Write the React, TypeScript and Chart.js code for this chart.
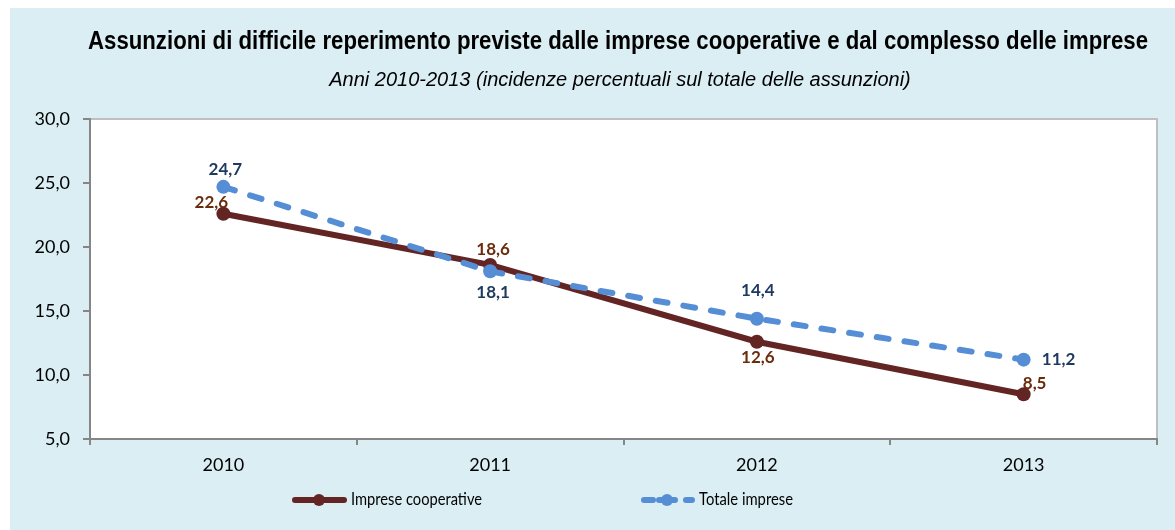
import React, { useEffect, useRef } from "react";
import { Chart, registerables } from "chart.js";

Chart.register(...registerables);

const categories = ["2010", "2011", "2012", "2013"];
const cooperativeValues = [22.6, 18.6, 12.6, 8.5];
const totalValues = [24.7, 18.1, 14.4, 11.2];
const yTicks = [5, 10, 15, 20, 25, 30];

const titleText = "Assunzioni di difficile reperimento previste dalle imprese cooperative e dal complesso delle imprese";
const subtitleText = "Anni 2010-2013 (incidenze percentuali sul totale delle assunzioni)";
const seriesNames = ["Imprese cooperative", "Totale imprese"];

// label offsets relative to each point (dx, dy)
const coopLabelOffsets = [[-12, -11], [3, -15], [1, 16], [11, -11]];
const totalLabelOffsets = [[2, -17], [3, 21], [1, -28], [35, 0]];

const COOP = "#632523";
const COOP_LABEL = "#6B2B0B";
const TOTAL = "#558ED5";
const TOTAL_LABEL = "#1F3A60";
const BG = "#DAEEF3";
const TICK_FONT = "Lato, 'Open Sans', sans-serif";
const TITLE_FONT = "'Liberation Sans', Arial, sans-serif";

const fmt = (v: number) => v.toFixed(1).replace(".", ",");

const decorPlugin = {
  id: "decor",
  beforeDraw(chart: any) {
    const { ctx, chartArea, width, height } = chart;
    ctx.save();
    ctx.fillStyle = BG;
    ctx.fillRect(0, 0, width, height);
    ctx.fillStyle = "#FFFFFF";
    ctx.fillRect(chartArea.left, chartArea.top, chartArea.right - chartArea.left, chartArea.bottom - chartArea.top);
    ctx.strokeStyle = "#BFBFBF";
    ctx.lineWidth = 2;
    ctx.beginPath();
    ctx.moveTo(chartArea.left, chartArea.top);
    ctx.lineTo(chartArea.right, chartArea.top);
    ctx.lineTo(chartArea.right, chartArea.bottom);
    ctx.stroke();
    // titles
    ctx.fillStyle = "#000";
    ctx.textAlign = "center";
    ctx.textBaseline = "middle";
    ctx.font = `bold 25px ${TITLE_FONT}`;
    ctx.fillText(titleText, 608, 34, 1060);
    ctx.font = `italic 20px ${TITLE_FONT}`;
    ctx.fillText(subtitleText, 610, 72, 586);
    ctx.restore();
  },
  afterDraw(chart: any) {
    const { ctx } = chart;
    ctx.save();
    // data labels
    ctx.font = `bold 17px ${TICK_FONT}`;
    ctx.textAlign = "center";
    ctx.textBaseline = "middle";
    const sets = [
      { idx: 0, color: COOP_LABEL, offs: coopLabelOffsets, vals: cooperativeValues },
      { idx: 1, color: TOTAL_LABEL, offs: totalLabelOffsets, vals: totalValues },
    ];
    sets.forEach((s) => {
      const meta = chart.getDatasetMeta(s.idx);
      meta.data.forEach((pt: any, i: number) => {
        ctx.fillStyle = s.color;
        ctx.fillText(fmt(s.vals[i]), pt.x + s.offs[i][0], pt.y + s.offs[i][1]);
      });
    });
    // legend
    const ly = 492;
    ctx.lineCap = "round";
    ctx.strokeStyle = COOP;
    ctx.lineWidth = 6;
    ctx.setLineDash([]);
    ctx.beginPath();
    ctx.moveTo(285, ly);
    ctx.lineTo(334, ly);
    ctx.stroke();
    ctx.fillStyle = COOP;
    ctx.beginPath();
    ctx.arc(309, ly, 6, 0, Math.PI * 2);
    ctx.fill();
    ctx.strokeStyle = TOTAL;
    ctx.beginPath();
    ctx.moveTo(634, ly);
    ctx.lineTo(643, ly);
    ctx.moveTo(676, ly);
    ctx.lineTo(682, ly);
    ctx.stroke();
    ctx.fillStyle = TOTAL;
    ctx.beginPath();
    ctx.arc(657, ly, 6, 0, Math.PI * 2);
    ctx.fill();
    ctx.beginPath();
    ctx.moveTo(649, ly);
    ctx.lineTo(665, ly);
    ctx.stroke();
    ctx.fillStyle = "#000";
    ctx.font = `17px ${TICK_FONT}`;
    ctx.textAlign = "left";
    ctx.fillText(seriesNames[0], 341, ly, 131);
    ctx.fillText(seriesNames[1], 689, ly, 94);
    ctx.restore();
  },
};

export default function App() {
  const ref = useRef<HTMLCanvasElement | null>(null);

  useEffect(() => {
    document.body.style.margin = "0";
    if (!ref.current) return;
    const chart = new Chart(ref.current, {
      type: "line",
      data: {
        labels: categories,
        datasets: [
          {
            label: seriesNames[0],
            data: cooperativeValues,
            borderColor: COOP,
            backgroundColor: COOP,
            borderWidth: 6,
            pointRadius: 7,
            pointBorderWidth: 0,
            pointBackgroundColor: COOP,
            tension: 0,
            order: 1,
          },
          {
            label: seriesNames[1],
            data: totalValues,
            borderColor: TOTAL,
            backgroundColor: TOTAL,
            borderWidth: 6,
            borderDash: [12, 16],
            borderCapStyle: "round",
            pointRadius: 7,
            pointBorderWidth: 0,
            pointBackgroundColor: TOTAL,
            tension: 0,
            order: 0,
          },
        ],
      },
      options: {
        animation: false,
        responsive: true,
        maintainAspectRatio: false,
        layout: { padding: { top: 111, right: 18, bottom: 51, left: 0 } },
        plugins: {
          legend: { display: false },
          tooltip: { enabled: false },
          title: { display: false },
        },
        scales: {
          x: {
            type: "category",
            offset: true,
            grid: {
              display: true,
              drawOnChartArea: false,
              offset: true,
              tickLength: 6,
              color: "#868686",
              lineWidth: 2,
            },
            border: { color: "#868686", width: 2 },
            ticks: {
              color: "#000",
              font: { family: TICK_FONT, size: 18 },
              padding: 9,
            },
            afterFit(scale: any) {
              scale.height = 40;
            },
          },
          y: {
            min: 5,
            max: 30,
            afterBuildTicks(scale: any) {
              scale.ticks = yTicks.map((v) => ({ value: v }));
            },
            grid: {
              display: true,
              drawOnChartArea: false,
              tickLength: 7,
              color: "#868686",
              lineWidth: 2,
            },
            border: { color: "#868686", width: 2 },
            ticks: {
              color: "#000",
              font: { family: TICK_FONT, size: 18 },
              padding: 13,
              callback: (v: any) => fmt(Number(v)),
            },
            afterFit(scale: any) {
              scale.width = 80;
            },
          },
        },
      },
      plugins: [decorPlugin],
    });
    return () => chart.destroy();
  }, []);

  return (
    <div style={{ position: "absolute", left: 10, top: 8, width: 1165, height: 522 }}>
      <canvas ref={ref} />
    </div>
  );
}
